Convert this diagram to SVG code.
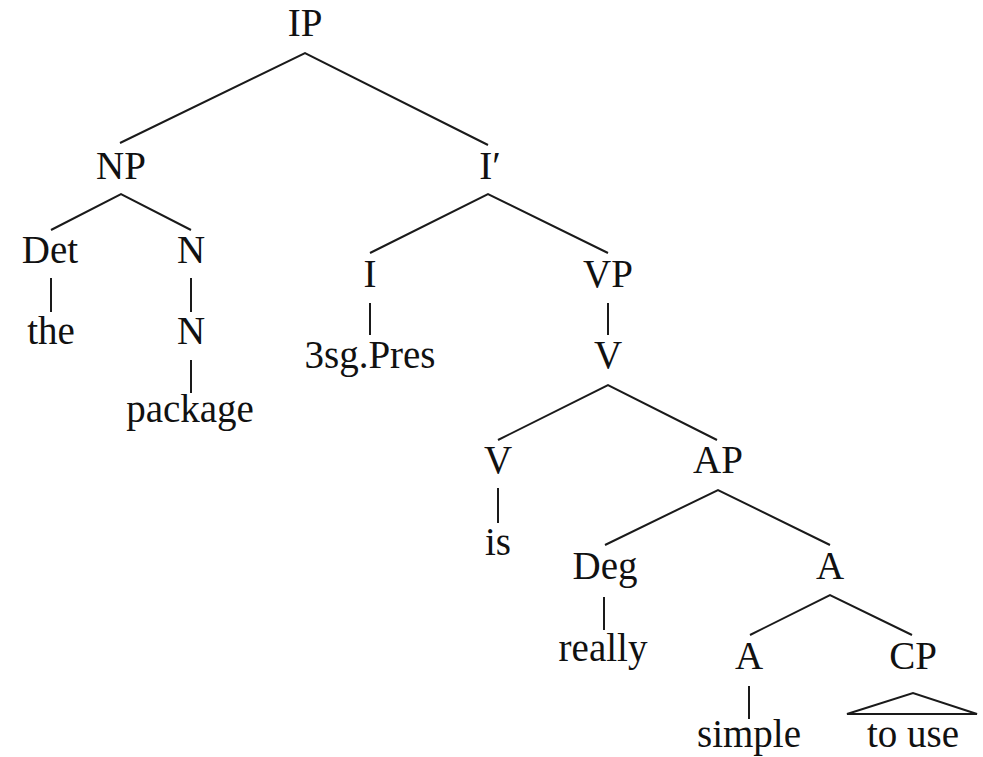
<svg xmlns="http://www.w3.org/2000/svg" width="983" height="757" viewBox="0 0 983 757">
  <style>
    .lbl { font-family: "Liberation Serif", "DejaVu Serif", serif; font-size: 39px; fill: #111; text-anchor: middle; }
    .edge { stroke: #1a1a1a; stroke-width: 2; fill: none; stroke-linecap: butt; }
  </style>
  <rect width="983" height="757" fill="#ffffff"/>

  <!-- tree branches -->
  <g id="connectors">
    <path class="edge" d="M120,143 L305,53 L488,145"/>
    <path class="edge" d="M51,230 L121,194 L191,230"/>
    <line class="edge" x1="51" y1="278" x2="51" y2="312"/>
    <line class="edge" x1="191" y1="278" x2="191" y2="312"/>
    <line class="edge" x1="191" y1="360" x2="191" y2="393"/>
    <path class="edge" d="M370,253 L488,194 L608,253"/>
    <line class="edge" x1="370" y1="303" x2="370" y2="335"/>
    <line class="edge" x1="608" y1="303" x2="608" y2="335"/>
    <path class="edge" d="M498,440 L608,385 L717,440"/>
    <line class="edge" x1="498" y1="488" x2="498" y2="523"/>
    <path class="edge" d="M605,545 L718,490 L830,545"/>
    <line class="edge" x1="604" y1="597" x2="604" y2="630"/>
    <path class="edge" d="M750,635 L830,595 L912,635"/>
    <line class="edge" x1="749" y1="686" x2="749" y2="719"/>
    <!-- CP roof -->
    <path class="edge" d="M847,714 L913,693 L977,714 Z" stroke-linejoin="miter"/>
  </g>

  <g id="n-ip"><text class="lbl" x="305" y="36">IP</text></g>
  <g id="n-np"><text class="lbl" x="121" y="179">NP</text></g>
  <g id="n-ibar"><text class="lbl" x="490" y="179">I′</text></g>
  <g id="n-det"><text class="lbl" x="50" y="263">Det</text></g>
  <g id="n-n1"><text class="lbl" x="191" y="263">N</text></g>
  <g id="n-the"><text class="lbl" x="51" y="344">the</text></g>
  <g id="n-n2"><text class="lbl" x="191" y="344">N</text></g>
  <g id="n-package"><text class="lbl" x="190" y="422">package</text></g>
  <g id="n-i"><text class="lbl" x="370" y="287">I</text></g>
  <g id="n-vp"><text class="lbl" x="608" y="287">VP</text></g>
  <g id="n-3sg"><text class="lbl" x="370" y="368">3sg.Pres</text></g>
  <g id="n-v1"><text class="lbl" x="608" y="368">V</text></g>
  <g id="n-v2"><text class="lbl" x="498" y="473">V</text></g>
  <g id="n-ap"><text class="lbl" x="718" y="473">AP</text></g>
  <g id="n-is"><text class="lbl" x="498" y="555">is</text></g>
  <g id="n-deg"><text class="lbl" x="605" y="579">Deg</text></g>
  <g id="n-a1"><text class="lbl" x="830" y="579">A</text></g>
  <g id="n-really"><text class="lbl" x="603" y="661">really</text></g>
  <g id="n-a2"><text class="lbl" x="749" y="669">A</text></g>
  <g id="n-cp"><text class="lbl" x="913" y="669">CP</text></g>
  <g id="n-simple"><text class="lbl" x="749" y="747">simple</text></g>
  <g id="n-touse"><text class="lbl" x="913" y="747">to use</text></g>
</svg>
